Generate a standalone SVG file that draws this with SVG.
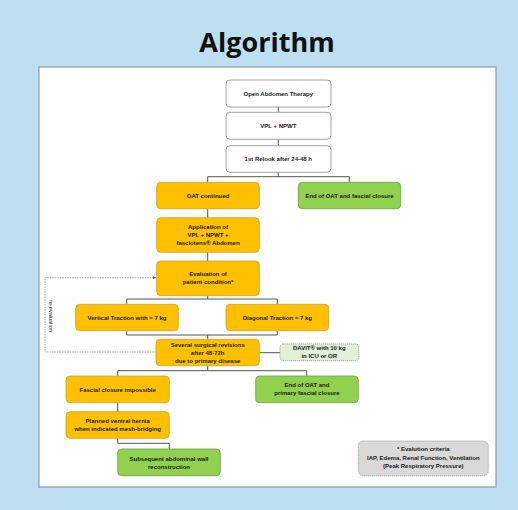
<svg xmlns="http://www.w3.org/2000/svg" width="518" height="510" viewBox="0 0 518 510">
<defs>
<style>
.t{font-family:"Liberation Sans",Arial,sans-serif;font-weight:bold;font-size:6px;fill:#1a1a1a;text-anchor:middle}
.w{fill:#ffffff;stroke:#8a8a8a;stroke-width:0.8}
.o{fill:#FFC000;stroke:#C9A227;stroke-width:0.8}
.g{fill:#92D050;stroke:#6F9E3C;stroke-width:0.8}
.lg{fill:#E2EFD9;stroke:#8a8a8a;stroke-width:0.7;stroke-dasharray:1.2 0.8}
.gr{fill:#D9D9D9;stroke:#8a8a8a;stroke-width:0.7;stroke-dasharray:1.2 0.8}
.c{fill:none;stroke:#555555;stroke-width:1}
.d{fill:none;stroke:#8a8a8a;stroke-width:0.8;stroke-dasharray:1.5 1}
</style>
<marker id="ah" viewBox="0 0 6 6" refX="6" refY="3" markerWidth="4" markerHeight="4" orient="auto">
<path d="M0,0 L6,3 L0,6 z" fill="#555555"/>
</marker>
</defs>
<rect x="0" y="0" width="518" height="510" fill="#BDDFF1"/>
<text x="267" y="52" font-family="'Open Sans','Liberation Sans',sans-serif" font-weight="bold" font-size="27" fill="#111111" text-anchor="middle">Algorithm</text>
<rect x="39" y="67" width="457" height="420" fill="#ffffff" stroke="#8C9BA6" stroke-width="1.2"/>

<g id="connectors">
<path class="c" d="M278.3,107 V112.3 M278.3,139.3 V145.7"/>
<path class="c" d="M278.3,172.3 V176.7 M207.7,182.3 V176.7 H349.3 V182.3"/>
<path class="c" d="M207.7,208.7 V217.7 M207.7,252.3 V261"/>
<path class="c" d="M207.7,295.7 V299 M126.7,304.3 V299 H277.3 V304.3"/>
<path class="c" d="M126.7,330.7 V335 H277.3 V330.7 M207.7,335 V339.3"/>
<path class="c" d="M259.3,352.7 H280"/>
<path class="c" d="M207.7,365.7 V370.7 M117.7,376 V370.7 H306.7 V376"/>
<path class="c" d="M117.7,402.7 V411.7"/>
<path class="c" d="M117.7,438.3 V443.3 H169.3 V449"/>
<path class="d" d="M156,352 H45 V277.7 H156" marker-end="url(#ah)"/>
<text class="t" transform="translate(48.5,316) rotate(90)" style="font-weight:normal;font-size:5.5px">re-evaluation</text>
</g>

<g id="n1"><rect class="w" x="226" y="80" width="105" height="27" rx="4"/><text class="t" x="278.3" y="95.5">Open Abdomen Therapy</text></g>
<g id="n2"><rect class="w" x="226" y="112.3" width="105" height="27" rx="4"/><text class="t" x="278.3" y="128">VPL + NPWT</text></g>
<g id="n3"><rect class="w" x="226" y="145.7" width="105" height="26.6" rx="4"/><text class="t" x="278.3" y="161">1st Relook after 24-48 h</text></g>
<g id="n4"><rect class="o" x="156.7" y="182.3" width="102.6" height="26.4" rx="4"/><text class="t" x="208" y="197.7">OAT continued</text></g>
<g id="n5"><rect class="g" x="298.3" y="182.3" width="102.4" height="26.4" rx="4"/><text class="t" x="349.5" y="197.7">End of OAT and fascial closure</text></g>
<g id="n6"><rect class="o" x="156.7" y="217.7" width="102.6" height="34.6" rx="4"/><text class="t" x="208" y="228.7">Application of</text><text class="t" x="208" y="236.9">VPL + NPWT +</text><text class="t" x="208" y="245.1">fasciotens® Abdomen</text></g>
<g id="n7"><rect class="o" x="156.7" y="261" width="102.6" height="34.7" rx="4"/><text class="t" x="208" y="276">Evaluation of</text><text class="t" x="208" y="284">patient condition*</text></g>
<g id="n8"><rect class="o" x="75.7" y="304.3" width="102.6" height="26.4" rx="4"/><text class="t" x="127" y="319.7">Vertical Traction with = 7 kg</text></g>
<g id="n9"><rect class="o" x="226" y="304.3" width="102.7" height="26.4" rx="4"/><text class="t" x="277.3" y="319.7">Diagonal Traction = 7 kg</text></g>
<g id="n10"><rect class="o" x="156" y="339.3" width="103.3" height="26.4" rx="4"/><text class="t" x="207.7" y="346.7">Several surgical revisions</text><text class="t" x="207.7" y="354.7">after 48-72h</text><text class="t" x="207.7" y="363">due to primary disease</text></g>
<g id="n11"><rect class="lg" x="280" y="344" width="78.7" height="16.7" rx="3"/><text class="t" x="319.3" y="350.3">DAVIT® with 10 kg</text><text class="t" x="319.3" y="358.2">in ICU or OR</text></g>
<g id="n12"><rect class="o" x="66" y="376" width="103.3" height="26.7" rx="4"/><text class="t" x="117.7" y="391.5">Fascial closure impossible</text></g>
<g id="n13"><rect class="g" x="255.7" y="376" width="102.6" height="26.7" rx="4"/><text class="t" x="307" y="387.3">End of OAT and</text><text class="t" x="307" y="395.3">primary fascial closure</text></g>
<g id="n14"><rect class="o" x="66" y="411.7" width="103.3" height="26.6" rx="4"/><text class="t" x="117.7" y="422.7">Planned ventral hernia</text><text class="t" x="117.7" y="430.7">when indicated mesh-bridging</text></g>
<g id="n15"><rect class="g" x="117.7" y="449" width="102.6" height="26.7" rx="4"/><text class="t" x="169" y="460.7">Subsequent abdominal wall</text><text class="t" x="169" y="468.5">reconstruction</text></g>
<g id="n16"><rect class="gr" x="358.3" y="441" width="130" height="34.7" rx="5"/><text class="t" x="423.3" y="451.3">* Evalution criteria</text><text class="t" x="423.3" y="460">IAP, Edema, Renal Function, Ventilation</text><text class="t" x="423.3" y="468">(Peak Respiratory Pressure)</text></g>
</svg>
